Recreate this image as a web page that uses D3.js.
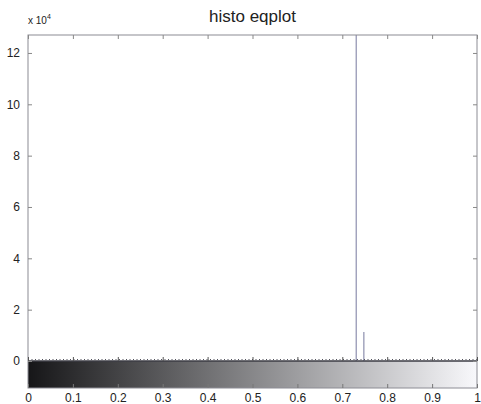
<!DOCTYPE html>
<html>
<meta charset="utf-8">
<style>
  body { margin: 0; background: #fff; }
  text { font-family: "Liberation Sans", Arial, sans-serif; fill: #222; }
</style>
<body>
<div id="chart"></div>
<script src="https://d3js.org/d3.v7.min.js"></script>
<script>
  // histogram stems (intensity, count)
  const binLevels = [0.731, 0.748];
  const binCounts = [127000, 11300];
  const xTicks = [0, 0.1, 0.2, 0.3, 0.4, 0.5, 0.6, 0.7, 0.8, 0.9, 1];
  const yTicks = [0, 20000, 40000, 60000, 80000, 100000, 120000];
  const yMax = 127000;

  const width = 481, height = 404;
  const plotLeft = 28, plotRight = 477, plotTop = 35, zeroY = 361, barBottom = 388;

  const svg = d3.select("#chart").append("svg")
    .attr("width", width)
    .attr("height", height);

  const x = d3.scaleLinear().domain([0, 1]).range([plotLeft, plotRight]);
  const y = d3.scaleLinear().domain([0, yMax]).range([zeroY, plotTop]);

  // colorbar strip below the axis
  const grad = svg.append("defs").append("linearGradient").attr("id", "gray");
  grad.append("stop").attr("offset", "0%").attr("stop-color", "#161618");
  grad.append("stop").attr("offset", "100%").attr("stop-color", "#f8f8fb");
  svg.append("rect")
    .attr("x", plotLeft).attr("y", zeroY)
    .attr("width", plotRight - plotLeft).attr("height", barBottom - zeroY)
    .attr("fill", "url(#gray)");

  // stems
  svg.selectAll("line.stem")
    .data(binLevels)
    .enter().append("line")
    .attr("class", "stem")
    .attr("x1", d => x(d)).attr("x2", d => x(d))
    .attr("y1", y(0))
    .attr("y2", (d, i) => y(binCounts[i]))
    .attr("stroke", "#8d8fae")
    .attr("stroke-width", 1.2);

  // zero baseline
  svg.append("line")
    .attr("x1", plotLeft).attr("x2", plotRight)
    .attr("y1", zeroY).attr("y2", zeroY)
    .attr("stroke", "#3c3c44").attr("stroke-width", 1.6);
  svg.append("line")
    .attr("x1", plotLeft).attr("x2", plotRight)
    .attr("y1", zeroY - 1.5).attr("y2", zeroY - 1.5)
    .attr("stroke", "#55555e").attr("stroke-width", 1)
    .attr("stroke-dasharray", "1,2.5");

  // box
  svg.append("rect")
    .attr("x", plotLeft).attr("y", plotTop)
    .attr("width", plotRight - plotLeft).attr("height", barBottom - plotTop)
    .attr("fill", "none").attr("stroke", "#8c8c94").attr("stroke-width", 1);

  // y axis left and right
  svg.append("g")
    .attr("transform", `translate(${plotLeft},0)`)
    .call(d3.axisLeft(y).tickValues(yTicks).tickSize(-4).tickPadding(8)
      .tickFormat(d => d / 10000))
    .call(g => g.select(".domain").remove())
    .call(g => g.selectAll("line").attr("stroke", "#888"))
    .call(g => g.selectAll("text").attr("font-size", 12).attr("fill", "#2a2a2a"));

  svg.append("g")
    .attr("transform", `translate(${plotRight},0)`)
    .call(d3.axisRight(y).tickValues(yTicks).tickSize(-4).tickFormat(""))
    .call(g => g.select(".domain").remove())
    .call(g => g.selectAll("line").attr("stroke", "#888"));

  // x ticks on top, on the zero line, and on colorbar bottom
  svg.append("g")
    .attr("transform", `translate(0,${plotTop})`)
    .call(d3.axisTop(x).tickValues(xTicks).tickSize(-4).tickFormat(""))
    .call(g => g.select(".domain").remove())
    .call(g => g.selectAll("line").attr("stroke", "#888"));

  svg.append("g")
    .attr("transform", `translate(0,${zeroY})`)
    .call(d3.axisTop(x).tickValues(xTicks).tickSize(4).tickFormat(""))
    .call(g => g.select(".domain").remove())
    .call(g => g.selectAll("line").attr("stroke", "#555"));

  svg.append("g")
    .attr("transform", `translate(0,${barBottom})`)
    .call(d3.axisBottom(x).tickValues(xTicks).tickSize(-4).tickPadding(5)
      .tickFormat(d => d))
    .call(g => g.select(".domain").remove())
    .call(g => g.selectAll("line").attr("stroke", "#777"))
    .call(g => g.selectAll("text").attr("font-size", 12).attr("fill", "#2a2a2a"));

  // exponent label
  const ex = svg.append("text").attr("x", plotLeft).attr("y", 24).attr("font-size", 10);
  ex.append("tspan").text("x 10");
  ex.append("tspan").attr("dy", -5).attr("font-size", 7).text("4");

  // title
  svg.append("text")
    .attr("x", (plotLeft + plotRight) / 2).attr("y", 22)
    .attr("text-anchor", "middle")
    .attr("font-size", 17)
    .text("histo eqplot");
</script>
</body>
</html>
